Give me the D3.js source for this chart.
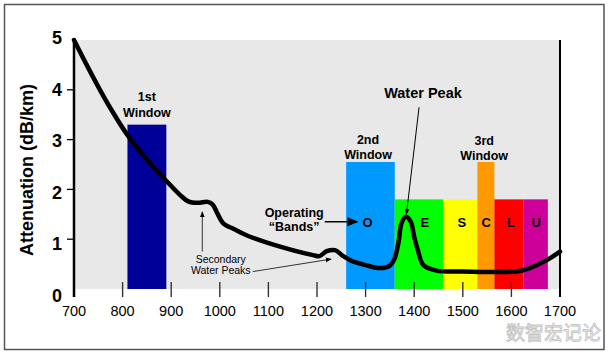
<!DOCTYPE html>
<html><head><meta charset="utf-8">
<script src="https://cdn.jsdelivr.net/npm/d3@7/dist/d3.min.js"></script>
<style>
html,body{margin:0;padding:0;background:#fff;}
svg{display:block;font-family:Arial,"Liberation Sans",sans-serif;}
</style></head>
<body><svg id="chart" width="609" height="355"></svg>
<script>
// ---- data ----
const xTicks = [700,800,900,1000,1100,1200,1300,1400,1500,1600,1700];
const yTicks = [0,1,2,3,4,5];
const curveNm = [700,725,750,775,808,850,891,918,935,955,975,985,995,1007,1030,1055,1124,1192,1205,1220,1237,1254,1270,1300,1330,1350,1360,1368,1374,1383,1393,1400,1407,1419,1446,1500,1570,1611,1638,1673,1700];
const curveDb = [5.0,4.52,4.06,3.63,3.12,2.6,2.16,1.89,1.76,1.73,1.75,1.7,1.52,1.32,1.2,1.08,0.85,0.68,0.66,0.76,0.78,0.66,0.57,0.48,0.42,0.47,0.62,0.95,1.32,1.45,1.35,1.05,0.8,0.48,0.37,0.35,0.34,0.35,0.42,0.58,0.75];
const bandNames = ["1st","O","E","S","C","L","U"];
const bandStart = [810,1260,1360,1460,1530,1565,1625];
const bandEnd   = [890,1360,1460,1530,1565,1625,1675];
const bandTop   = [3.3,2.55,1.8,1.8,2.55,1.8,1.8];
const bandColor = ["#000099","#0099FF","#00FF00","#FFFF00","#FF9900","#FF0000","#CC0099"];
const bandLetters = ["O","E","S","C","L","U"];
const letterNm = [1304,1422,1498,1548,1599,1651];
const letterDb = 1.33;
const windowLabels = [["1st","Window"],["2nd","Window"],["3rd","Window"]];
const windowNm = [850,1305,1544];
const windowDb = [[3.86,3.53],[2.99,2.69],[2.97,2.67]];

// ---- setup ----
const svg = d3.select("#chart");
const x = d3.scaleLinear().domain([700,1700]).range([74,560]);
const y = d3.scaleLinear().domain([0,5]).range([289,40]);
const yLab = d3.scaleLinear().domain([0,5]).range([296,38]);

// frame
svg.append("rect").attr("x",4.5).attr("y",4.5).attr("width",599.5).attr("height",345)
  .attr("fill","#fff").attr("stroke","#555").attr("stroke-width",1.5);

// markers
const defs = svg.append("defs");
defs.append("marker").attr("id","ahs").attr("viewBox","0 0 10 10").attr("refX",9).attr("refY",5)
  .attr("markerWidth",6).attr("markerHeight",6).attr("markerUnits","userSpaceOnUse").attr("orient","auto")
  .append("path").attr("d","M0,1 L10,5 L0,9 Z").attr("fill","#000");
defs.append("marker").attr("id","ahb").attr("viewBox","0 0 10 10").attr("refX",9).attr("refY",5)
  .attr("markerWidth",11).attr("markerHeight",11).attr("markerUnits","userSpaceOnUse").attr("orient","auto")
  .append("path").attr("d","M0,1 L10,5 L0,9 Z").attr("fill","#000");

// plot background
svg.append("rect").attr("x",x(700)).attr("y",y(5)).attr("width",x(1700)-x(700)).attr("height",y(0)-y(5))
  .attr("fill","#E8E8E8");

// bands
svg.selectAll("rect.band").data(bandNames).enter().append("rect").attr("class","band")
  .attr("x",(d,i)=>x(bandStart[i])).attr("width",(d,i)=>x(bandEnd[i])-x(bandStart[i]))
  .attr("y",(d,i)=>y(bandTop[i])).attr("height",(d,i)=>y(0)-y(bandTop[i]))
  .attr("fill",(d,i)=>bandColor[i]);

// x ticks (short lines crossing bottom)
svg.selectAll("line.xt").data(xTicks.slice(1,-1)).enter().append("line")
  .attr("x1",d=>x(d)).attr("x2",d=>x(d)).attr("y1",y(0)-7).attr("y2",y(0)+8)
  .attr("stroke","#333").attr("stroke-width",1.4);
svg.selectAll("text.xt").data(xTicks).enter().append("text")
  .attr("x",d=>x(d)).attr("y",y(0)+22).attr("text-anchor","middle")
  .attr("dominant-baseline","central").attr("font-size",14.5).attr("fill","#000").text(d=>d);

// y axis
svg.append("line").attr("x1",x(700)).attr("x2",x(700)).attr("y1",y(5)).attr("y2",y(0)+8)
  .attr("stroke","#000").attr("stroke-width",2.5);
svg.append("line").attr("x1",x(1700)).attr("x2",x(1700)).attr("y1",y(5)).attr("y2",y(0)+8)
  .attr("stroke","#000").attr("stroke-width",2);
svg.selectAll("line.yt").data(yTicks.slice(1,5)).enter().append("line")
  .attr("x1",x(700)-7).attr("x2",x(700)).attr("y1",d=>y(d)).attr("y2",d=>y(d))
  .attr("stroke","#000").attr("stroke-width",1.3);
svg.selectAll("text.yt").data(yTicks).enter().append("text")
  .attr("x",x(700)-12).attr("y",d=>yLab(d)).attr("text-anchor","end")
  .attr("dominant-baseline","central").attr("font-size",18).attr("font-weight","bold").text(d=>d);
svg.append("text").attr("transform","translate(27,170) rotate(-90)").attr("text-anchor","middle")
  .attr("dominant-baseline","central").attr("font-size",18).attr("font-weight","bold")
  .text("Attenuation (dB/km)");

// curve
const pts = curveNm.map((n,i)=>[n,curveDb[i]]);
svg.append("path").datum(pts)
  .attr("d",d3.line().x(d=>x(d[0])).y(d=>y(d[1])).curve(d3.curveCatmullRom.alpha(0.5)))
  .attr("fill","none").attr("stroke","#000").attr("stroke-width",4.5)
  .attr("stroke-linecap","round").attr("stroke-linejoin","round");

// window labels
windowLabels.forEach((lines,i)=>{
  lines.forEach((t,j)=>{
    svg.append("text").attr("x",x(windowNm[i])).attr("y",y(windowDb[i][j]))
      .attr("text-anchor","middle").attr("dominant-baseline","central")
      .attr("font-size",12.5).attr("font-weight","bold").text(t);
  });
});

// band letters
svg.selectAll("text.bl").data(bandLetters).enter().append("text")
  .attr("x",(d,i)=>x(letterNm[i])).attr("y",y(letterDb)).attr("text-anchor","middle")
  .attr("dominant-baseline","central").attr("font-size",13).attr("font-weight","bold").text(d=>d);

// Water Peak
svg.append("text").attr("x",x(1418)).attr("y",y(3.94)).attr("text-anchor","middle")
  .attr("dominant-baseline","central").attr("font-size",14.5).attr("font-weight","bold").text("Water Peak");
svg.append("line").attr("x1",x(1410)).attr("y1",y(3.65)).attr("x2",x(1384)).attr("y2",y(1.5))
  .attr("stroke","#000").attr("stroke-width",1).attr("marker-end","url(#ahs)");

// Operating "Bands"
[["Operating",1.53],["\u201CBands\u201D",1.25]].forEach(a=>{
  svg.append("text").attr("x",x(1153)).attr("y",y(a[1])).attr("text-anchor","middle")
    .attr("dominant-baseline","central").attr("font-size",12.5).attr("font-weight","bold").text(a[0]);
});
svg.append("line").attr("x1",x(1216)).attr("y1",y(1.35)).attr("x2",x(1283)).attr("y2",y(1.35))
  .attr("stroke","#000").attr("stroke-width",1.3).attr("marker-end","url(#ahb)");

// Secondary Water Peaks
[["Secondary",0.6],["Water Peaks",0.38]].forEach(a=>{
  svg.append("text").attr("x",x(1002)).attr("y",y(a[1])).attr("text-anchor","middle")
    .attr("dominant-baseline","central").attr("font-size",10.5).text(a[0]);
});
svg.append("line").attr("x1",x(964)).attr("y1",y(0.75)).attr("x2",x(964)).attr("y2",y(1.55))
  .attr("stroke","#333").attr("stroke-width",1).attr("marker-end","url(#ahs)");
svg.append("line").attr("x1",x(1068)).attr("y1",y(0.35)).attr("x2",x(1229)).attr("y2",y(0.6))
  .attr("stroke","#333").attr("stroke-width",1).attr("marker-end","url(#ahs)");

// watermark
svg.append("text").attr("x",601).attr("y",331).attr("text-anchor","end")
  .attr("dominant-baseline","central").attr("font-size",19)
  .attr("font-family","'Noto Sans CJK SC',sans-serif")
  .attr("fill","#fff").attr("stroke","#c0c0c0").attr("stroke-width",0.8).text("数智宏记论");
</script></body></html>
